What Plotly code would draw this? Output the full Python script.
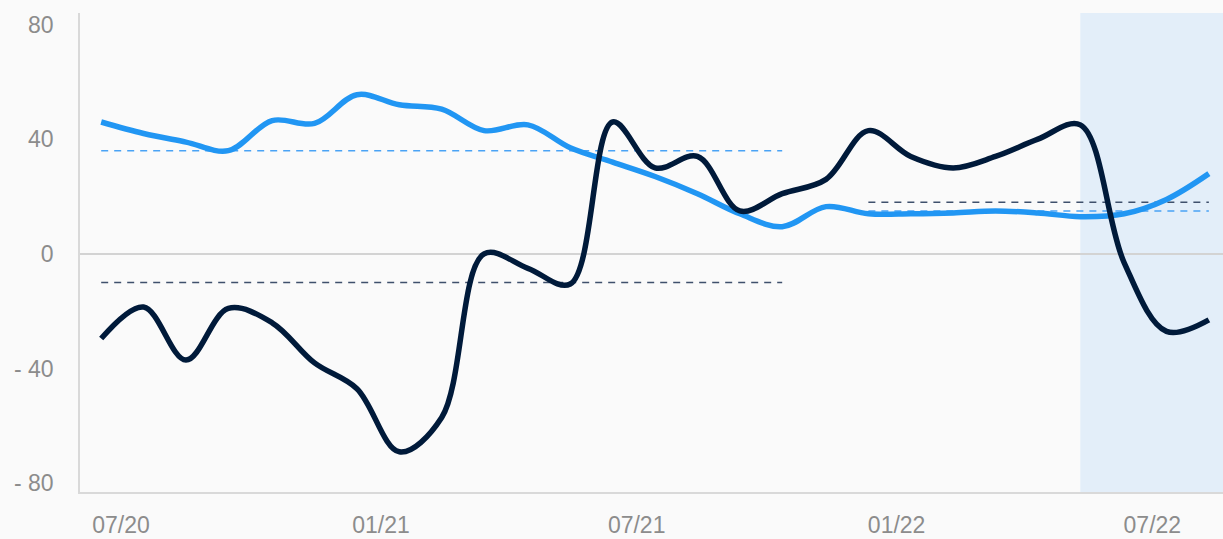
import plotly.graph_objects as go

dates = [
    "2020-06-17", "2020-07-17", "2020-08-16", "2020-09-15", "2020-10-16",
    "2020-11-15", "2020-12-15", "2021-01-14", "2021-02-13", "2021-03-15",
    "2021-04-15", "2021-05-15", "2021-06-14", "2021-07-14", "2021-08-13",
    "2021-09-12", "2021-10-12", "2021-11-12", "2021-12-12", "2022-01-11",
    "2022-02-10", "2022-03-12", "2022-04-11", "2022-05-11", "2022-06-11",
    "2022-07-11", "2022-08-10",
]
dark_values = [-29.5, -18.5, -37, -19, -24, -38, -47, -69, -57, 0,
               -5, -10.5, 46, 30, 34, 15, 21, 26, 43, 34,
               30, 34, 40, 45, -3, -27, -23]
blue_values = [46, 42, 39, 36, 46.5, 45.5, 55.5, 52, 50.5, 43,
               45, 37, 32, 27, 21, 14, 9.5, 16.5, 14, 14,
               14.3, 15, 14.3, 13, 14, 19, 28]

# Period averages (dashed reference lines)
period1_range = (0, 16)
period2_range = (18, 26)
dark_avgs = [-10, 18]
blue_avgs = [36, 15]

shade_start_index = 23
x_range = ["2020-06-02", "2022-08-20"]

y_tickvals = [-80, -40, 0, 40, 80]
y_ticktext = ["- 80", "- 40", "0", "40", "80"]
x_tickvals = ["2020-07-01", "2021-01-01", "2021-07-01", "2022-01-01", "2022-07-01"]
x_ticktext = ["07/20", "01/21", "07/21", "01/22", "07/22"]

DARK = "#001a3a"
BLUE = "#2196f3"
DARK_DASH = "#3f506c"
BLUE_DASH = "#4aa3f5"
BG = "#fafafa"

fig = go.Figure()

# Dashed period averages
for (a, b), dv, bv in zip([period1_range, period2_range], dark_avgs, blue_avgs):
    fig.add_trace(go.Scatter(x=[dates[a], dates[b]], y=[dv, dv], mode="lines",
                             line=dict(color=DARK_DASH, width=1.5, dash="7px,6px"),
                             hoverinfo="skip"))
    fig.add_trace(go.Scatter(x=[dates[a], dates[b]], y=[bv, bv], mode="lines",
                             line=dict(color=BLUE_DASH, width=1.5, dash="7px,6px"),
                             hoverinfo="skip"))

fig.add_trace(go.Scatter(x=dates, y=blue_values, mode="lines",
                         line=dict(color=BLUE, width=5.5, shape="spline", smoothing=1)))
fig.add_trace(go.Scatter(x=dates, y=dark_values, mode="lines",
                         line=dict(color=DARK, width=5.5, shape="spline", smoothing=1)))

fig.add_shape(type="rect", xref="x", yref="paper",
              x0=dates[shade_start_index], x1=x_range[1], y0=0, y1=1,
              fillcolor="#e3eef9", line_width=0, layer="below")

font = dict(family="Liberation Sans, Arial, sans-serif", size=23, color="#8c8c8c")

fig.update_layout(
    width=1223, height=539,
    margin=dict(l=80, r=0, t=13, b=47),
    paper_bgcolor=BG, plot_bgcolor=BG,
    showlegend=False,
    font=font,
    xaxis=dict(type="date", range=x_range, tickvals=x_tickvals, ticktext=x_ticktext,
               showgrid=False, zeroline=False, showline=True, linecolor="#d9d9d9",
               linewidth=1.5, ticks="outside", ticklen=12, tickcolor="rgba(0,0,0,0)",
               tickfont=font),
    yaxis=dict(range=[-83, 84], tickvals=y_tickvals, ticktext=y_ticktext,
               showgrid=False, zeroline=True, zerolinecolor="#d3d3d3", zerolinewidth=2,
               showline=True, linecolor="#d9d9d9", linewidth=1.5,
               ticks="outside", ticklen=20, tickcolor="rgba(0,0,0,0)", tickfont=font),
)

fig.write_html(
    "out.html",
    config={"displayModeBar": False},
    post_script="document.body.style.margin='0';document.body.style.background='#fafafa';",
)
